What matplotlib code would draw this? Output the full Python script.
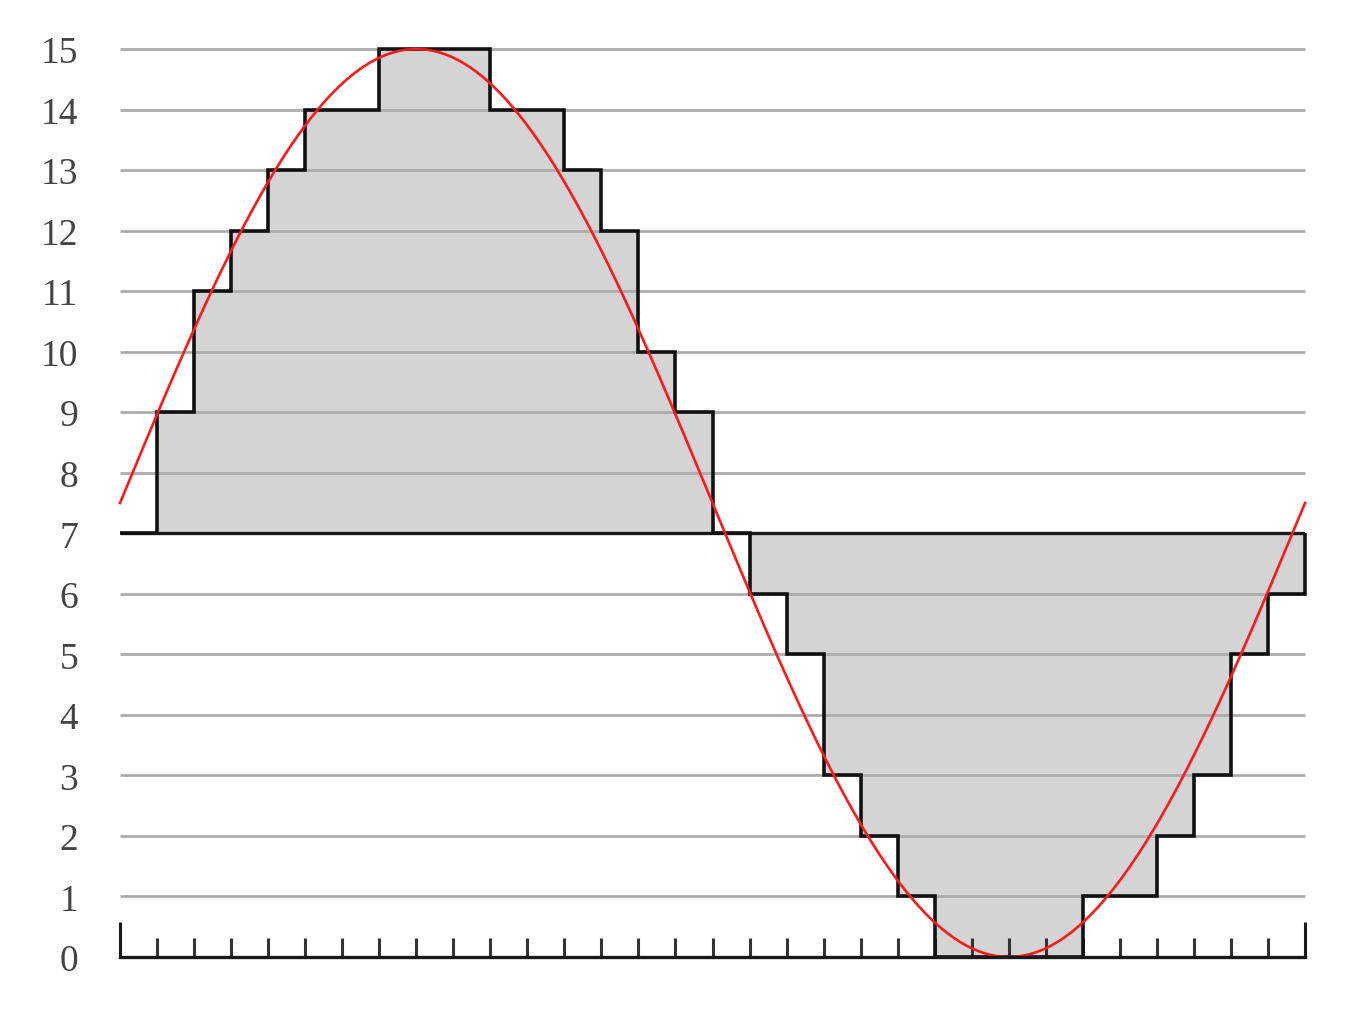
import numpy as np
import matplotlib.pyplot as plt

# ---- datos: señal cuantizada a 4 bits (32 muestras) ----
sample_edges = list(range(33))
sample_levels = [7, 9, 11, 12, 13, 14, 14, 15, 15, 15, 14, 14, 13, 12, 10, 9,
                 7, 6, 5, 3, 2, 1, 0, 0, 0, 0, 1, 1, 2, 3, 5, 6]
y_levels = list(range(16))
y_labels = [str(v) for v in y_levels]

# señal analógica (seno): desplazamiento, amplitud y periodo en muestras
signal_offset = 7.5
signal_amp = 7.5
signal_period = 32
baseline = 7

fig = plt.figure(figsize=(13.56, 10.12), dpi=100)
ax = fig.add_axes([120 / 1356, 54 / 1012, 1185 / 1356, 908 / 1012])
ax.set_xlim(0, 32)
ax.set_ylim(0, 15)

# rejilla horizontal gris
grid_y = [v for v in y_levels if v not in (0, baseline)]
ax.hlines(grid_y, 0, 32, color="#acacac", lw=2.0, zorder=2, clip_on=False)

# relleno entre el nivel medio y las muestras
ax.stairs(sample_levels, sample_edges, baseline=baseline, fill=True,
          color="#d4d4d4", zorder=1)
# línea del nivel medio
ax.hlines(baseline, 0, 32, color="#1a1a1a", lw=2.4, zorder=3)
# contorno escalonado
ax.stairs(sample_levels, sample_edges, baseline=baseline, fill=False,
          color="#111111", lw=2.6, zorder=4, clip_on=False)

# señal analógica
t = np.linspace(0, signal_period, 400)
ax.plot(t, signal_offset + signal_amp * np.sin(2 * np.pi * t / signal_period),
        color="#ff1a1a", lw=1.9, zorder=5, clip_on=False)

# ejes
for s in ["top", "right", "left"]:
    ax.spines[s].set_visible(False)
ax.spines["bottom"].set_linewidth(2.4)
ax.spines["bottom"].set_color("#1a1a1a")
ax.spines["bottom"].set_zorder(6)

ax.set_xticks([0, 32])
ax.set_xticks(sample_edges, minor=True)
ax.set_xticklabels([])
ax.tick_params(axis="x", which="major", direction="in", length=25, width=2.2,
               color="#1a1a1a")
ax.tick_params(axis="x", which="minor", direction="in", length=13.5, width=2.2,
               color="#333333")

ax.set_yticks(y_levels)
ax.set_yticklabels(y_labels, family="Liberation Serif", fontsize=27,
                   color="#444444")
ax.tick_params(axis="y", length=0, pad=30)

fig.savefig("out.png", dpi=100, facecolor="white")
